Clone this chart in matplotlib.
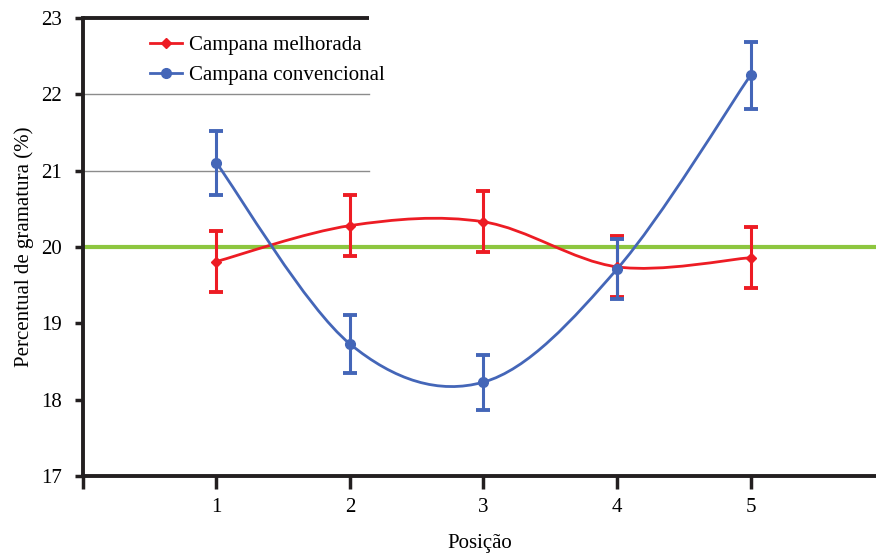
import numpy as np
import matplotlib.pyplot as plt
from matplotlib.path import Path
from matplotlib.patches import PathPatch

plt.rcParams['font.family'] = ['Liberation Serif', 'DejaVu Serif']

posicao = [1, 2, 3, 4, 5]
melhorada = [19.81, 20.28, 20.33, 19.74, 19.86]
melhorada_err = [0.40, 0.40, 0.40, 0.40, 0.40]
convencional = [21.10, 18.73, 18.23, 19.71, 22.25]
convencional_err = [0.42, 0.38, 0.36, 0.39, 0.44]
meta = 20

red = '#ED1C24'
blue = '#4466B8'
green = '#8DC63F'


def smooth_path(x, y):
    # Excel-like smoothed line (Catmull-Rom as cubic Bezier)
    x = np.asarray(x, float)
    y = np.asarray(y, float)
    n = len(x)
    verts = [(x[0], y[0])]
    codes = [Path.MOVETO]
    for i in range(n - 1):
        p0 = i - 1 if i > 0 else i
        p3 = i + 2 if i + 2 < n else i + 1
        c1 = (x[i] + (x[i + 1] - x[p0]) / 6, y[i] + (y[i + 1] - y[p0]) / 6)
        c2 = (x[i + 1] - (x[p3] - x[i]) / 6, y[i + 1] - (y[p3] - y[i]) / 6)
        verts += [c1, c2, (x[i + 1], y[i + 1])]
        codes += [Path.CURVE4] * 3
    return Path(verts, codes)


fig = plt.figure(figsize=(8.76, 5.53), dpi=100)
ax = fig.add_axes([0.0947, 0.1392, 0.9053, 0.8283])
ax.set_xlim(0, 5.94)
ax.set_ylim(17, 23)

# partial gridlines and top border
for g in [21, 22]:
    ax.plot([0, 2.14], [g, g], color='#8C8C8C', lw=1.0, zorder=1)
ax.plot([0, 2.14], [23, 23], color='#231F20', lw=2.8, zorder=1, clip_on=False,
        solid_capstyle='butt')

ax.axhline(meta, color=green, lw=3, zorder=2)

ax.add_patch(PathPatch(smooth_path(posicao, melhorada), fc='none', ec=red, lw=2, zorder=3))
ax.add_patch(PathPatch(smooth_path(posicao, convencional), fc='none', ec=blue, lw=2, zorder=3))

ax.errorbar(posicao, melhorada, yerr=melhorada_err, fmt='none', ecolor=red,
            elinewidth=2.2, capsize=5, capthick=2.8, zorder=4)
ax.errorbar(posicao, convencional, yerr=convencional_err, fmt='none', ecolor=blue,
            elinewidth=2.2, capsize=5, capthick=2.8, zorder=4)
ax.plot(posicao, melhorada, linestyle='none', marker='D', ms=5, color=red, zorder=5)
ax.plot(posicao, convencional, linestyle='none', marker='o', ms=7, color=blue, zorder=5)

# legend entries
ax.plot([], [], color=red, lw=2, marker='D', ms=5, label='Campana melhorada')
ax.plot([], [], color=blue, lw=2, marker='o', ms=7, label='Campana convencional')
ax.legend(loc='upper left', bbox_to_anchor=(0.0845, 0.962), frameon=False,
          borderpad=0, borderaxespad=0, fontsize=15, handlelength=1.55,
          handletextpad=0.3, labelspacing=0.5)

for s in ['top', 'right']:
    ax.spines[s].set_visible(False)
for s in ['left', 'bottom']:
    ax.spines[s].set_linewidth(2.8)
    ax.spines[s].set_color('#231F20')

ax.set_yticks([17, 18, 19, 20, 21, 22, 23])
ax.set_xticks([0, 1, 2, 3, 4, 5])
ax.set_xticklabels(['', '1', '2', '3', '4', '5'])
ax.tick_params(axis='y', direction='out', length=6, width=2.5, color='#231F20',
               labelsize=15, pad=9)
ax.tick_params(axis='x', direction='out', length=9, width=2.5, color='#231F20',
               labelsize=15, pad=7)

ax.set_xlabel('Posição', fontsize=15, labelpad=12)
ax.set_ylabel('Percentual de gramatura (%)', fontsize=15, labelpad=5)

fig.savefig('out.png', dpi=100)
